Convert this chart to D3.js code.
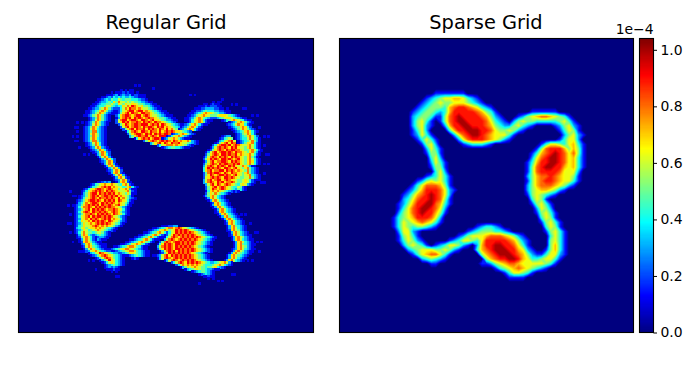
<!DOCTYPE html>
<html>
<head>
<meta charset="utf-8">
<script src="https://cdn.jsdelivr.net/npm/d3@7"></script>
<style>
body { margin: 0; background: #fff; }
text { font-family: "DejaVu Sans", sans-serif; fill: #000; }
</style>
</head>
<body>
<svg id="paper" width="700" height="370"></svg>
<script>
var titles = ["Regular Grid", "Sparse Grid"];
var colorTicks = [0, 0.2, 0.4, 0.6, 0.8, 1.0];
var colorMax = 1.04;
var regularSize = 128;
var sparseSize = 64;
var jetStops = ["#00007f", "#0000ff", "#007fff", "#00ffff", "#7fff7f", "#ffff00", "#ff7f00", "#ff0000", "#7f0000"];
// what the digits 0-9 in the tables below stand for, as a share of colorMax
var regularShares = [0, 0.1, 0.2, 0.3, 0.4, 0.48, 0.57, 0.65, 0.76, 0.88];
var sparseShares = [0, 0.17, 0.3, 0.42, 0.52, 0.62, 0.7, 0.79, 0.87, 0.97];

// faint outlying cells of the regular grid
var regularSpecks = [
    [20, 50, "101"], [21, 58, "1"], [24, 74, "101"], [26, 88, "1"], [28, 92, "101"], [30, 97, "11"], [33, 101, "101"],
    [36, 25, "101"], [38, 24, "11"], [40, 25, "1"], [42, 23, "101"], [44, 24, "11"], [47, 26, "1"], [50, 28, "101"],
    [38, 104, "1"], [42, 106, "101"], [46, 106, "1"], [50, 107, "11"], [54, 106, "101"], [58, 106, "1"], [62, 105, "11"],
    [66, 22, "1"], [68, 23, "11"], [72, 21, "101"], [76, 22, "1"], [80, 21, "11"], [84, 22, "101"], [88, 23, "1"],
    [76, 96, "101"], [80, 100, "1"], [84, 102, "11"], [88, 103, "101"], [92, 104, "1"], [96, 99, "101"],
    [92, 26, "11"], [96, 30, "101"], [100, 33, "1"], [103, 42, "11"], [105, 86, "101"], [106, 78, "1"], [102, 92, "11"]
];

// [row, first column, levels 0-9]
var regularCells = [
    [22, 44, "1010110"], [23, 40, "101112121101"], [24, 38, "11123123223122111"], [25, 36, "1123243434334322111"],
    [26, 34, "1123435446545554443221"], [27, 33, "1123345475866565655433211"], [27, 84, "1011"],
    [28, 32, "1123445565476576677655433211"], [28, 80, "11012110"],
    [29, 31, "112344566543447687987675543211"], [29, 78, "1112122211"],
    [30, 30, "11233568753222468798878766543211"], [30, 76, "111223333221101"],
    [31, 29, "11234578753211246789978997876543211"], [31, 75, "11223454443322111"],
    [32, 29, "112356875321112578979887998876543211"], [32, 74, "1123457877654332110"],
    [33, 28, "112356875321002478998789978987665432111"], [33, 73, "11235678765556777654321"],
    [34, 30, "12358753210013789897989878988765543211"], [34, 72, "1123578754322234567765432110"],
    [35, 30, "123687532100268997899879987897765433211"], [35, 72, "11246787421100001245787654211"],
    [36, 29, "1235875321"], [36, 42, "26798978898798987988765432"], [36, 73, "1246787521"], [36, 91, "12357875321"],
    [37, 29, "1236875321"], [37, 43, "2579878998999789897987654321"], [37, 71, "12357864211"], [37, 90, "12346877421"],
    [38, 28, "1235875321"], [38, 44, "2689789987989987989787654321"], [38, 70, "1235787421"], [38, 91, "1234578742"],
    [39, 28, "1236874321"], [39, 45, "2578979889798987987978654321"], [39, 69, "1235787421"], [39, 92, "12356875321"],
    [40, 28, "1235884321"], [40, 46, "14689879987988797898987765432"], [40, 93, "12345786421"],
    [41, 28, "1236875321"], [41, 47, "257899879897989899898765"], [41, 66, "12357875321"], [41, 94, "123568742"],
    [42, 28, "1235875321"], [42, 48, "35789889789879998978765"], [42, 64, "12467875321"], [42, 88, "1233"], [42, 94, "1234578642"],
    [43, 28, "1236874321"], [43, 50, "1478989789989878976"], [43, 62, "123678753211"], [43, 87, "124565"], [43, 94, "12344686431"],
    [44, 28, "1235885321"], [44, 54, "257898789898798787786321"], [44, 86, "13467896"], [44, 95, "1234568531"],
    [45, 29, "123687421"], [45, 57, "357897987988976654321"], [45, 85, "125789798"], [45, 95, "1235778421"],
    [46, 29, "123587421"], [46, 60, "2467888787765321"], [46, 84, "247899897898766786421"],
    [47, 30, "123687321"], [47, 62, "123455443211"], [47, 83, "1368989879897665786421"],
    [48, 31, "123587421"], [48, 82, "125789879899887655786421"],
    [49, 32, "12368732"], [49, 81, "136897899898798876578531"],
    [50, 33, "1358742"], [50, 81, "257898799898897876786421"],
    [51, 34, "1368731"], [51, 80, "136898798987989876578531"],
    [52, 35, "1358742"], [52, 80, "2579898799898789765786421"],
    [53, 35, "1236872"], [53, 80, "1368978899879898765787421"],
    [54, 36, "1368731"], [54, 80, "2578987989988989765786421"],
    [55, 37, "1378621"], [55, 80, "36898798987989766875311"],
    [56, 38, "1358731"], [56, 80, "479898987998789765785321"],
    [57, 38, "1236872"], [57, 80, "478978899798987876585321"],
    [58, 39, "1378621"], [58, 80, "258989987987988765785321"],
    [59, 40, "1368731"], [59, 80, "2579878998987897656784321"],
    [60, 41, "1378621"], [60, 80, "2678989879989876556685321"],
    [61, 41, "1236872"], [61, 80, "3689789978987765567642111"],
    [62, 34, "112323"], [62, 42, "1378621"], [62, 80, "36898798978898655676421"],
    [63, 31, "1245678778765478621"], [63, 81, "368979878987654676321"],
    [64, 30, "1245678989787664578421"], [64, 81, "257897898765446521"],
    [65, 28, "12467899878987756787311"], [65, 81, "257987898765435421"],
    [66, 27, "124678989879898766678521"], [66, 81, "147878765432121"],
    [67, 27, "135789979898989787657511"], [67, 81, "25768654321"],
    [68, 26, "123578989789989897876531"], [68, 80, "1357864321"],
    [69, 26, "1246789879889898797865321"], [69, 81, "137864321"],
    [70, 25, "1235789989879898979876421"], [70, 82, "137864321"],
    [71, 25, "1346878998798989878765311"], [71, 83, "127864321"],
    [72, 24, "1235789898979889878976421"], [72, 83, "137864321"],
    [73, 24, "124688987989898988765321"], [73, 84, "137864321"],
    [74, 24, "123578979898987889876421"], [74, 85, "137864321"],
    [75, 24, "124689879889898789875321"], [75, 85, "127864321"],
    [76, 24, "123578898798989879876421"], [76, 86, "137864321"],
    [77, 24, "12467897989989898765321"], [77, 87, "137854321"],
    [78, 24, "12367879898789897876421"], [78, 88, "137864321"],
    [79, 24, "12476787989898798765321"], [79, 89, "137864321"],
    [80, 24, "1235767878989898765421"], [80, 89, "127864321"],
    [81, 24, "124576678987878765321"], [81, 62, "1112233"], [81, 90, "137854321"],
    [82, 24, "1346756778787654321"], [82, 58, "11234578878987654321"], [82, 90, "137864321"],
    [83, 24, "123576456787654321"], [83, 56, "1123467875679898987654321"], [83, 90, "127865321"],
    [84, 24, "1246865545665321"], [84, 54, "11234578642467989898987654321"], [84, 91, "137864321"],
    [85, 25, "136874323454321"], [85, 52, "11234578642125798989898987654321"], [85, 91, "1278643211"],
    [86, 25, "12578642123321"], [86, 50, "112345786421114689878989898987654321"], [86, 92, "137865321"],
    [87, 26, "136864213211"], [87, 48, "1123457864211003689878989898987654321"], [87, 92, "1378643211"],
    [88, 26, "1278753211"], [88, 46, "11234578754210025898789989898987654321"], [88, 93, "137864321"],
    [89, 27, "23786432111"], [89, 44, "1123467875421000147989879989898987654321"], [89, 93, "1378543211"],
    [90, 27, "12687543211"], [90, 41, "112345788754211000036898987989898987654321"], [90, 93, "137865321"],
    [91, 28, "136875432111"], [91, 38, "1123456788765432110000257989879989898987654321"], [91, 92, "12378643211"],
    [92, 28, "12367865432211"], [92, 41, "1234567887543211000013689897989898987654321"], [92, 92, "1378653211"],
    [93, 30, "134679876543321"], [93, 44, "23457765432110000125798989898987654321"], [93, 91, "1378654321"],
    [94, 31, "1235789876543211"], [94, 47, "1234543211"], [94, 58, "1123689798989898987654321"], [94, 90, "1378654321"],
    [95, 33, "1246898754321"], [95, 49, "121"], [95, 60, "13689878989898987654321"], [95, 90, "137864321"],
    [96, 35, "13579764321"], [96, 63, "136898789898987654321"], [96, 89, "137864321"],
    [97, 36, "1246764321"], [97, 66, "246898798989876543345678631"],
    [98, 37, "123454321"], [98, 68, "2468787878765444567864321"],
    [99, 37, "1232321"], [99, 70, "13576787655455674321"],
    [100, 38, "111211"], [100, 72, "134567655433211"],
    [101, 40, "101"], [101, 75, "1234554321"], [102, 78, "1234321"], [103, 80, "11211"], [104, 82, "101"]
];

var sparseCells = [
    [12, 21, "1111111"], [13, 19, "123455665321"], [14, 18, "12345445554321"], [15, 17, "12344436788765321"],
    [16, 16, "1234432368888876431"], [16, 42, "111111"],
    [17, 16, "23443114789888876421"], [17, 39, "124567765431"],
    [18, 16, "24531"], [18, 22, "147899888875321"], [18, 38, "24544333334531"],
    [19, 16, "24521"], [19, 23, "26889988876432245321"], [19, 47, "124521"],
    [20, 16, "1352"], [20, 24, "36889998875445421"], [20, 48, "13541"],
    [21, 16, "12531"], [21, 25, "25789987655531"], [21, 49, "24521"],
    [22, 17, "13531"], [22, 26, "257888765421"], [22, 48, "13552"],
    [23, 18, "1452"], [23, 27, "1233321"], [23, 44, "1355435631"],
    [24, 19, "2531"], [24, 43, "14788864641"],
    [25, 19, "1441"], [25, 42, "136789875741"],
    [26, 20, "352"], [26, 42, "257899875631"],
    [27, 20, "2531"], [27, 41, "1368899875631"],
    [28, 20, "1441"], [28, 41, "1478998865631"],
    [29, 21, "352"], [29, 41, "147888875552"],
    [30, 19, "123531"], [30, 41, "246778765541"],
    [31, 17, "12454531"], [31, 41, "146788765531"],
    [32, 16, "135777641"], [32, 41, "24677765421"],
    [33, 15, "12468887521"], [33, 41, "245665421"],
    [34, 14, "12467898752"], [34, 41, "1454321"],
    [35, 14, "23578898741"], [35, 42, "3541"],
    [36, 13, "124688997631"], [36, 42, "14531"],
    [37, 13, "13578998752"], [37, 43, "2542"],
    [38, 13, "24578988641"], [38, 43, "14531"],
    [39, 12, "13456888752"], [39, 44, "3541"],
    [40, 12, "13545676531"], [40, 44, "14531"],
    [41, 12, "1354344321"], [41, 30, "123321"], [41, 45, "3541"],
    [42, 13, "25521"], [42, 28, "1234443321"], [42, 45, "14531"],
    [43, 13, "14531"], [43, 26, "124555677765421"], [43, 46, "3531"],
    [44, 13, "135421"], [44, 24, "123554358888876421"], [44, 46, "4531"],
    [45, 14, "245431"], [45, 21, "12355421"], [45, 30, "268899887531"], [45, 46, "4631"],
    [46, 15, "234555445421"], [46, 30, "3678999886521"], [46, 45, "14631"],
    [47, 16, "135677531"], [47, 31, "4678999876421"], [47, 44, "135521"],
    [48, 18, "234321"], [48, 32, "46788998653345531"],
    [49, 20, "11"], [49, 31, "11245677655555431"],
    [50, 34, "134567654321"], [51, 36, "1355431"], [52, 37, "1111"]
];

var svg = d3.select("#paper");

var color = d3.scaleLinear()
    .domain(jetStops.map(function (d, i) { return colorMax * i / (jetStops.length - 1); }))
    .range(jetStops);

function buildField(cells, size, shares) {
    var field = new Array(size * size).fill(0);
    cells.forEach(function (seg) {
        for (var i = 0; i < seg[2].length; i++) {
            field[seg[0] * size + seg[1] + i] = shares[+seg[2][i]] * colorMax;
        }
    });
    return field;
}

function drawFrame(x0, y0, w, h) {
    svg.append("rect")
        .attr("x", x0).attr("y", y0)
        .attr("width", w).attr("height", h)
        .attr("fill", "none")
        .attr("stroke", "#000")
        .attr("stroke-width", 1.1);
}

function drawRegular(x0, y0, w, h) {
    var x = d3.scaleLinear().domain([0, regularSize]).range([x0, x0 + w]);
    var y = d3.scaleLinear().domain([0, regularSize]).range([y0, y0 + h]);
    var field = buildField(regularSpecks.concat(regularCells), regularSize, regularShares);
    var group = svg.append("g").attr("shape-rendering", "crispEdges");
    group.append("rect").attr("x", x0).attr("y", y0).attr("width", w).attr("height", h).attr("fill", color(0));
    var cells = [];
    field.forEach(function (v, i) {
        if (v > 0) cells.push({ col: i % regularSize, row: Math.floor(i / regularSize), v: v });
    });
    group.selectAll("rect.cell").data(cells).enter().append("rect")
        .attr("class", "cell")
        .attr("x", function (d) { return x(d.col); })
        .attr("y", function (d) { return y(d.row); })
        .attr("width", x(1) - x(0) + 0.5)
        .attr("height", y(1) - y(0) + 0.5)
        .attr("fill", function (d) { return color(d.v); });
    drawFrame(x0, y0, w, h);
}

function drawSparse(x0, y0, w, h) {
    var field = buildField(sparseCells, sparseSize, sparseShares);
    var levels = d3.range(0.008, colorMax, colorMax / 60);
    var contours = d3.contours().size([sparseSize, sparseSize]).thresholds(levels)(field);
    var cell = w / sparseSize;
    // contour points sit half a cell in from the cell edge
    var path = d3.geoPath(d3.geoIdentity()
        .scale(cell)
        .translate([x0 - cell / 2, y0 - cell / 2]));
    var group = svg.append("g");
    group.append("rect").attr("x", x0).attr("y", y0).attr("width", w).attr("height", h).attr("fill", color(0));
    group.selectAll("path").data(contours).enter().append("path")
        .attr("d", path)
        .attr("fill", function (d) { return color(d.value); });
    drawFrame(x0, y0, w, h);
}

function drawColorbar(x0, y0, w, h) {
    var y = d3.scaleLinear().domain([0, colorMax]).range([y0 + h, y0]);
    var steps = d3.range(0, colorMax, colorMax / 256);
    svg.append("g").attr("shape-rendering", "crispEdges")
        .selectAll("rect").data(steps).enter().append("rect")
        .attr("x", x0)
        .attr("y", function (d) { return y(d + colorMax / 256); })
        .attr("width", w)
        .attr("height", h / 256 + 0.6)
        .attr("fill", function (d) { return color(d); });
    drawFrame(x0, y0, w, h);

    var axis = d3.axisRight(y)
        .tickValues(colorTicks)
        .tickSize(3.5)
        .tickPadding(3.5)
        .tickFormat(d3.format(".1f"));
    var g = svg.append("g").attr("transform", "translate(" + (x0 + w) + ",0)").call(axis);
    g.select(".domain").remove();
    g.selectAll("text").style("font-size", "13.9px").style("font-family", "DejaVu Sans");

    svg.append("text")
        .attr("x", x0 + w)
        .attr("y", y0 - 5)
        .attr("text-anchor", "end")
        .style("font-size", "13.9px")
        .text("1e\u22124");
}

function drawTitle(label, cx) {
    svg.append("text")
        .attr("x", cx)
        .attr("y", 29)
        .attr("text-anchor", "middle")
        .style("font-size", "19.4px")
        .text(label);
}

drawRegular(18.5, 38.5, 295, 294);
drawSparse(339.5, 38.5, 294, 294);
drawColorbar(639.5, 38.5, 14, 294);
drawTitle(titles[0], 166);
drawTitle(titles[1], 486);
</script>
</body>
</html>
